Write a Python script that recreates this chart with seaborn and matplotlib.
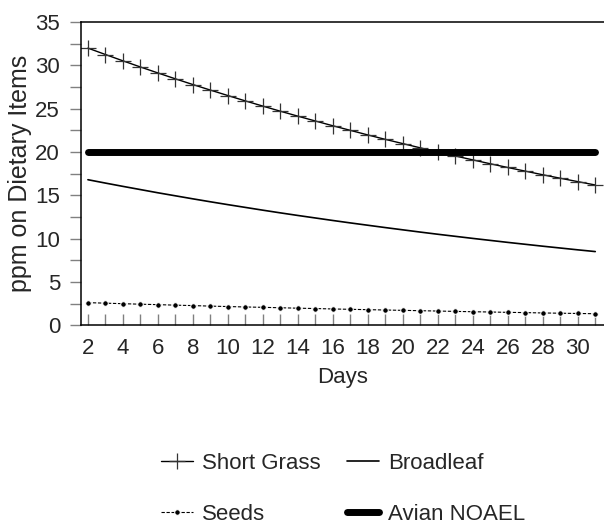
import matplotlib
matplotlib.use("Agg")

import matplotlib.pyplot as plt
import pandas as pd
import seaborn as sns

days = list(range(2, 32))
short_grass = [32.00, 31.26, 30.53, 29.82, 29.13, 28.45, 27.79, 27.15, 26.52, 25.90,
               25.30, 24.71, 24.14, 23.58, 23.03, 22.50, 21.97, 21.46, 20.97, 20.48,
               20.00, 19.54, 19.09, 18.64, 18.21, 17.79, 17.37, 16.97, 16.58, 16.19]
broadleaf = [16.80, 16.41, 16.03, 15.66, 15.29, 14.94, 14.59, 14.25, 13.92, 13.60,
             13.28, 12.97, 12.67, 12.38, 12.09, 11.81, 11.54, 11.27, 11.01, 10.75,
             10.50, 10.26, 10.02, 9.79, 9.56, 9.34, 9.12, 8.91, 8.70, 8.50]
seeds = [2.60, 2.54, 2.48, 2.42, 2.37, 2.31, 2.26, 2.20, 2.15, 2.10,
         2.06, 2.01, 1.96, 1.92, 1.87, 1.83, 1.79, 1.75, 1.71, 1.67,
         1.63, 1.59, 1.55, 1.52, 1.48, 1.45, 1.41, 1.38, 1.35, 1.32]
avian_noael = [20] * len(days)

df = pd.DataFrame({"Days": days, "Short Grass": short_grass, "Broadleaf": broadleaf,
                   "Seeds": seeds, "Avian NOAEL": avian_noael})

sns.set_style("white")
plt.rcParams["font.family"] = ["Liberation Sans", "DejaVu Sans"]
FS = 16

fig = plt.figure(figsize=(6.04, 5.27), dpi=100)
ax = fig.add_axes([0.134, 0.383, 0.866, 0.575])

sns.lineplot(data=df, x="Days", y="Short Grass", ax=ax, color="black", lw=1.0,
             marker="+", markersize=11, mew=0.9, mec="#333333", label="Short Grass")
sns.lineplot(data=df, x="Days", y="Broadleaf", ax=ax, color="black", lw=1.2,
             label="Broadleaf")
sns.lineplot(data=df, x="Days", y="Seeds", ax=ax, color="black", lw=0.8,
             linestyle=(0, (3, 1.5)), marker="o", markersize=4, label="Seeds")
sns.lineplot(data=df, x="Days", y="Avian NOAEL", ax=ax, color="black", lw=5,
             solid_capstyle="round", label="Avian NOAEL")

ax.set_xlim(1.6, 31.5)
ax.set_ylim(0, 35)
ax.set_xticks(range(2, 31, 2))
ax.set_xticks(range(2, 32), minor=True)
ax.set_yticks(range(0, 36, 5))
ax.set_yticks([2.5 + 5 * i for i in range(7)], minor=True)
ax.tick_params(axis="x", which="both", direction="in", length=8, color="#808080",
               width=1, labelsize=FS, pad=9, bottom=True)
ax.tick_params(axis="y", which="both", direction="out", length=8, color="#808080",
               width=1, labelsize=FS, pad=7, left=True)
ax.set_xlabel("Days", fontsize=FS, labelpad=6)
ax.set_ylabel("ppm on Dietary Items", fontsize=18, labelpad=2)
for side in ["left", "bottom", "top"]:
    ax.spines[side].set_color("black")
    ax.spines[side].set_linewidth(1.1)
ax.spines["right"].set_visible(False)

handles, labels = ax.get_legend_handles_labels()
ax.get_legend().remove()
order = [0, 2, 1, 3]  # row-major: Short Grass, Broadleaf / Seeds, Avian NOAEL
fig.legend([handles[i] for i in order], [labels[i] for i in order], ncol=2,
           loc="center", bbox_to_anchor=(0.568, 0.073), frameon=False, fontsize=FS,
           handlelength=1.45, handletextpad=0.4, columnspacing=1.2, labelspacing=1.35)

fig.savefig("out.png", dpi=100)
